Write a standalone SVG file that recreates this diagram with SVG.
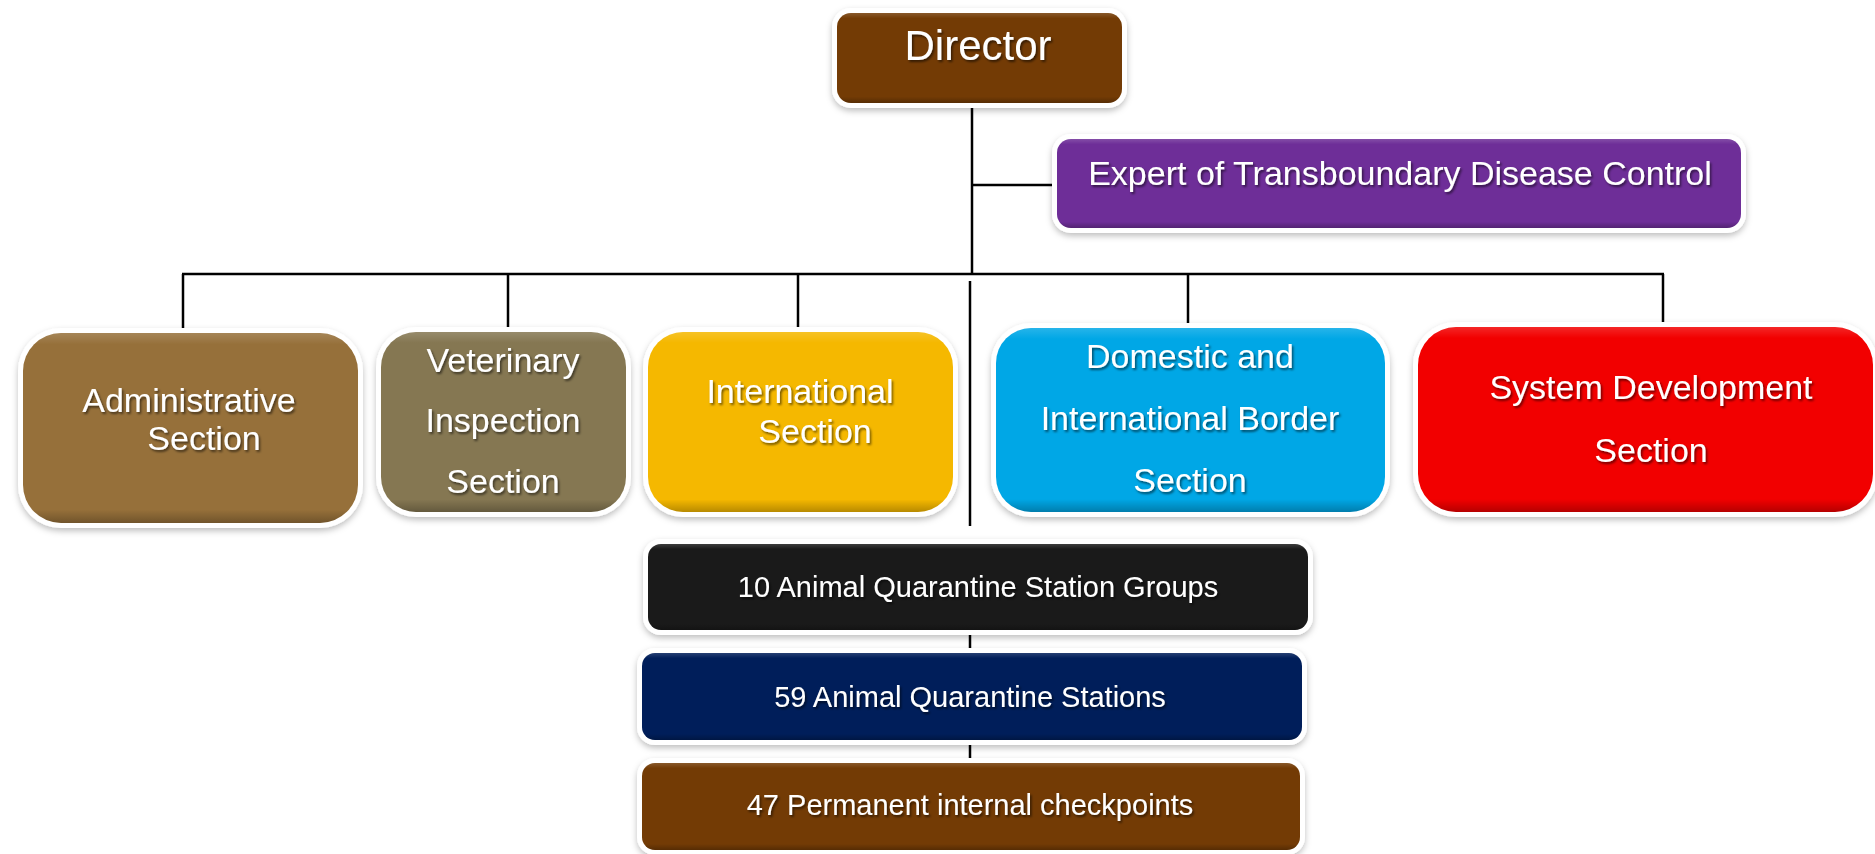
<svg xmlns="http://www.w3.org/2000/svg" width="1875" height="854" viewBox="0 0 1875 854">
  <defs>
    <filter id="boxShadow" x="-10%" y="-20%" width="120%" height="140%">
      <feDropShadow dx="0" dy="3" stdDeviation="3" flood-color="#000" flood-opacity="0.25"/>
    </filter>
    <filter id="textShadow" x="-10%" y="-30%" width="120%" height="160%">
      <feDropShadow dx="1.5" dy="2" stdDeviation="1.2" flood-color="#000" flood-opacity="0.55"/>
    </filter>
    <linearGradient id="bevel" x1="0" y1="0" x2="0" y2="1">
      <stop offset="0" stop-color="#fff" stop-opacity="0.15"/>
      <stop offset="0.06" stop-color="#fff" stop-opacity="0"/>
      <stop offset="0.93" stop-color="#000" stop-opacity="0"/>
      <stop offset="1" stop-color="#000" stop-opacity="0.25"/>
    </linearGradient>
  </defs>
  <style>
    .frame { fill: #ffffff; filter: url(#boxShadow); }
    .bev { fill: url(#bevel); }
    .lbl { font-family: "Liberation Sans", Arial, sans-serif; fill: #ffffff; text-anchor: middle; filter: url(#textShadow); }
    .big { font-size: 34px; }
    .small { font-size: 29px; }
    .conn line { stroke: #000; stroke-width: 2.5; }
  </style>
  <rect width="1875" height="854" fill="#ffffff"/>

  <g id="connectors" class="conn">
    <line x1="972" y1="103" x2="972" y2="275"/>
    <line x1="972" y1="185" x2="1057" y2="185"/>
    <line x1="182" y1="274" x2="1664" y2="274"/>
    <line x1="183" y1="274" x2="183" y2="330"/>
    <line x1="508" y1="274" x2="508" y2="328"/>
    <line x1="798" y1="274" x2="798" y2="328"/>
    <line x1="1188" y1="274" x2="1188" y2="324"/>
    <line x1="1663" y1="274" x2="1663" y2="323"/>
    <line x1="970" y1="281" x2="970" y2="526"/>
    <line x1="970" y1="635" x2="970" y2="648"/>
    <line x1="970" y1="745" x2="970" y2="758"/>
  </g>

  <g id="director">
    <rect class="frame" x="832" y="8" width="295" height="100" rx="19"/>
    <rect x="837" y="13" width="285" height="90" rx="14" fill="#733B05"/>
    <rect class="bev" x="837" y="13" width="285" height="90" rx="14"/>
    <text class="lbl" x="978" y="60" font-size="42">Director</text>
  </g>

  <g id="expert">
    <rect class="frame" x="1052" y="134" width="694" height="99" rx="19"/>
    <rect x="1057" y="139" width="684" height="89" rx="14" fill="#6E2E98"/>
    <rect class="bev" x="1057" y="139" width="684" height="89" rx="14"/>
    <text class="lbl big" x="1400" y="185">Expert of Transboundary Disease Control</text>
  </g>

  <g id="administrative">
    <rect class="frame" x="18" y="328" width="345" height="200" rx="43"/>
    <rect x="23" y="333" width="335" height="190" rx="38" fill="#96703A"/>
    <rect class="bev" x="23" y="333" width="335" height="190" rx="38"/>
    <text class="lbl big" x="189" y="412">Administrative</text>
    <text class="lbl big" x="204" y="450">Section</text>
  </g>

  <g id="veterinary">
    <rect class="frame" x="376" y="327" width="255" height="190" rx="40"/>
    <rect x="381" y="332" width="245" height="180" rx="35" fill="#857752"/>
    <rect class="bev" x="381" y="332" width="245" height="180" rx="35"/>
    <text class="lbl big" x="503" y="372">Veterinary</text>
    <text class="lbl big" x="503" y="432">Inspection</text>
    <text class="lbl big" x="503" y="493">Section</text>
  </g>

  <g id="international">
    <rect class="frame" x="643" y="327" width="315" height="190" rx="40"/>
    <rect x="648" y="332" width="305" height="180" rx="35" fill="#F5B800"/>
    <rect class="bev" x="648" y="332" width="305" height="180" rx="35"/>
    <text class="lbl big" x="800" y="403">International</text>
    <text class="lbl big" x="815" y="443">Section</text>
  </g>

  <g id="domestic">
    <rect class="frame" x="991" y="323" width="399" height="194" rx="40"/>
    <rect x="996" y="328" width="389" height="184" rx="35" fill="#00A7E6"/>
    <rect class="bev" x="996" y="328" width="389" height="184" rx="35"/>
    <text class="lbl big" x="1190" y="368">Domestic and</text>
    <text class="lbl big" x="1190" y="430">International Border</text>
    <text class="lbl big" x="1190" y="492">Section</text>
  </g>

  <g id="system">
    <rect class="frame" x="1413" y="322" width="465" height="195" rx="43"/>
    <rect x="1418" y="327" width="455" height="185" rx="38" fill="#F20000"/>
    <rect class="bev" x="1418" y="327" width="455" height="185" rx="38"/>
    <text class="lbl big" x="1651" y="399">System Development</text>
    <text class="lbl big" x="1651" y="462">Section</text>
  </g>

  <g id="station-groups">
    <rect class="frame" x="643" y="539" width="670" height="96" rx="18"/>
    <rect x="648" y="544" width="660" height="86" rx="13" fill="#1A1A1A"/>
    <rect class="bev" x="648" y="544" width="660" height="86" rx="13"/>
    <text class="lbl small" x="978" y="597">10 Animal Quarantine Station Groups</text>
  </g>

  <g id="stations">
    <rect class="frame" x="637" y="648" width="670" height="97" rx="18"/>
    <rect x="642" y="653" width="660" height="87" rx="13" fill="#001E5A"/>
    <rect class="bev" x="642" y="653" width="660" height="87" rx="13"/>
    <text class="lbl small" x="970" y="707">59 Animal Quarantine Stations</text>
  </g>

  <g id="checkpoints">
    <rect class="frame" x="637" y="758" width="668" height="97" rx="18"/>
    <rect x="642" y="763" width="658" height="87" rx="13" fill="#733B05"/>
    <rect class="bev" x="642" y="763" width="658" height="87" rx="13"/>
    <text class="lbl small" x="970" y="815">47 Permanent internal checkpoints</text>
  </g>
</svg>
